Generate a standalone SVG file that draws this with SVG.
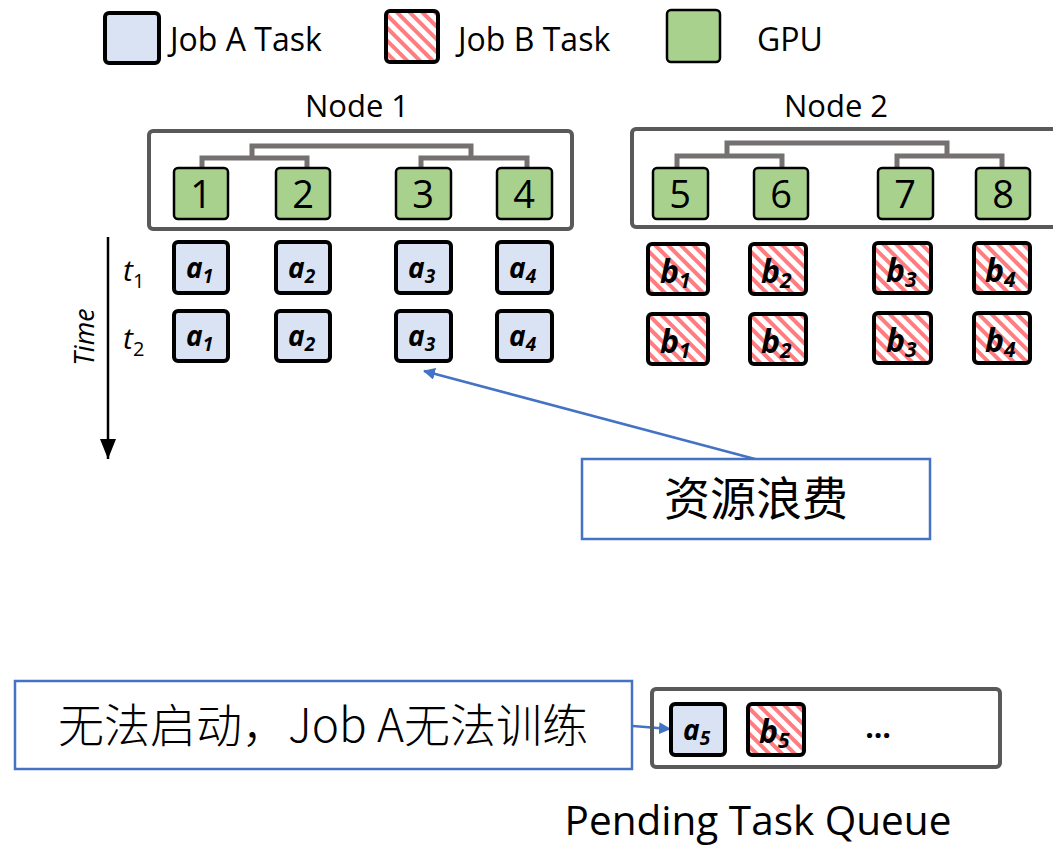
<svg xmlns="http://www.w3.org/2000/svg" width="1053" height="846" viewBox="0 0 1053 846">
<defs>
<pattern id="hatch" width="9" height="9" patternUnits="userSpaceOnUse" patternTransform="rotate(-45)">
<rect width="9" height="9" fill="#fff"/>
<rect x="0" y="0" width="4" height="9" fill="#FF7C80"/>
</pattern>
<marker id="blueArrow" markerWidth="12" markerHeight="12" refX="11" refY="6" orient="auto" markerUnits="userSpaceOnUse" viewBox="0 0 12 12">
<path d="M0,0 L12,6 L0,12 z" fill="#4472C4"/>
</marker>
<marker id="blackArrow" markerWidth="16" markerHeight="20" refX="8" refY="20" orient="0" markerUnits="userSpaceOnUse" viewBox="0 0 16 20">
<path d="M0,0 L16,0 L8,20 z" fill="#000"/>
</marker>
</defs>
<style>
.ta{fill:#DAE3F3;stroke:#000;stroke-width:4;}
.tb{fill:url(#hatch);stroke:#000;stroke-width:4;}
.gpu{fill:#A9D18E;stroke:#000;stroke-width:2.5;}
.node{fill:none;stroke:#595959;stroke-width:4;}
.tree{fill:none;stroke:#767171;stroke-width:5;}
.call{fill:#fff;stroke:#4472C4;stroke-width:2.5;}
.lbl{font-family:"Open Sans","Liberation Sans",sans-serif;fill:#000;}
.num{font-family:"Open Sans","Liberation Sans",sans-serif;font-size:38px;fill:#000;text-anchor:middle;}
.tk{font-family:"Open Sans","Liberation Sans",sans-serif;font-weight:bold;font-style:italic;font-size:28px;fill:#000;}
.tk tspan{font-size:19px;}
.tkb{font-family:"Open Sans","Liberation Sans",sans-serif;font-weight:bold;font-style:italic;font-size:32px;fill:#000;}
.tkb tspan{font-size:21px;}
.cjk{font-family:"Noto Sans CJK SC","Noto Sans",sans-serif;font-size:46px;fill:#000;}
</style>

<g id="legend">
<rect class="ta" x="105" y="13" width="54" height="50" rx="4"/>
<text class="lbl" x="170" y="51" font-size="32">Job A Task</text>
<rect class="tb" x="386" y="11" width="52" height="51" rx="4"/>
<text class="lbl" x="458" y="51" font-size="32">Job B Task</text>
<rect class="gpu" x="667" y="10" width="53" height="52" rx="4" stroke-width="2"/>
<text class="lbl" x="757" y="51" font-size="32">GPU</text>
</g>

<g id="node1">
<text class="lbl" x="357" y="117" font-size="31" text-anchor="middle">Node 1</text>
<rect class="node" x="149" y="131" width="423" height="98" rx="4"/>
<path class="tree" d="M202,168 V158 H307 V168 M252,158 V146 H471 V158 M421,168 V158 H527 V168"/>
<rect class="gpu" x="174" y="168" width="54" height="51" rx="4"/>
<text class="num" x="201" y="208">1</text>
<rect class="gpu" x="276" y="168" width="54" height="51" rx="4"/>
<text class="num" x="303" y="208">2</text>
<rect class="gpu" x="396" y="168" width="55" height="51" rx="4"/>
<text class="num" x="423" y="208">3</text>
<rect class="gpu" x="497" y="168" width="55" height="51" rx="4"/>
<text class="num" x="524" y="208">4</text>
</g>

<g id="node2">
<text class="lbl" x="836" y="117" font-size="31" text-anchor="middle">Node 2</text>
<rect class="node" x="632" y="129" width="440" height="98" rx="4"/>
<path class="tree" d="M677,168 V156 H782 V168 M727,156 V143 H947 V156 M897,168 V156 H1002 V168"/>
<rect class="gpu" x="653" y="168" width="55" height="51" rx="4"/>
<text class="num" x="680" y="208">5</text>
<rect class="gpu" x="754" y="168" width="54" height="51" rx="4"/>
<text class="num" x="781" y="208">6</text>
<rect class="gpu" x="878" y="168" width="55" height="51" rx="4"/>
<text class="num" x="905" y="208">7</text>
<rect class="gpu" x="976" y="168" width="54" height="51" rx="4"/>
<text class="num" x="1003" y="208">8</text>
</g>

<g id="time-axis">
<line x1="108" y1="237" x2="108" y2="459" stroke="#000" stroke-width="2.5" marker-end="url(#blackArrow)"/>
<text class="lbl" font-size="27" font-style="italic" transform="translate(94,337) rotate(-90)" text-anchor="middle">Time</text>
<text class="lbl" x="123" y="281" font-size="30" font-style="italic">t<tspan font-size="20" font-style="normal" dy="7">1</tspan></text>
<text class="lbl" x="123" y="349" font-size="30" font-style="italic">t<tspan font-size="20" font-style="normal" dy="7">2</tspan></text>
</g>

<g id="jobA-t1">
<rect class="ta" x="174" y="242" width="54" height="51" rx="4"/>
<text class="tk" x="186" y="278">a<tspan dy="5">1</tspan></text>
<rect class="ta" x="276" y="242" width="54" height="51" rx="4"/>
<text class="tk" x="288" y="278">a<tspan dy="5">2</tspan></text>
<rect class="ta" x="396" y="242" width="55" height="51" rx="4"/>
<text class="tk" x="408" y="278">a<tspan dy="5">3</tspan></text>
<rect class="ta" x="497" y="242" width="55" height="51" rx="4"/>
<text class="tk" x="509" y="278">a<tspan dy="5">4</tspan></text>
</g>
<g id="jobA-t2">
<rect class="ta" x="174" y="311" width="54" height="50" rx="4"/>
<text class="tk" x="186" y="346">a<tspan dy="5">1</tspan></text>
<rect class="ta" x="276" y="311" width="54" height="50" rx="4"/>
<text class="tk" x="288" y="346">a<tspan dy="5">2</tspan></text>
<rect class="ta" x="396" y="311" width="55" height="50" rx="4"/>
<text class="tk" x="408" y="346">a<tspan dy="5">3</tspan></text>
<rect class="ta" x="497" y="311" width="55" height="50" rx="4"/>
<text class="tk" x="509" y="346">a<tspan dy="5">4</tspan></text>
</g>

<g id="jobB-t1">
<rect class="tb" x="648" y="244" width="60" height="50" rx="4"/>
<text class="tkb" x="660" y="283">b<tspan dy="5">1</tspan></text>
<rect class="tb" x="750" y="244" width="56" height="50" rx="4"/>
<text class="tkb" x="761" y="283">b<tspan dy="5">2</tspan></text>
<rect class="tb" x="874" y="243" width="57" height="50" rx="4"/>
<text class="tkb" x="886" y="282">b<tspan dy="5">3</tspan></text>
<rect class="tb" x="974" y="243" width="56" height="50" rx="4"/>
<text class="tkb" x="985" y="282">b<tspan dy="5">4</tspan></text>
</g>
<g id="jobB-t2">
<rect class="tb" x="648" y="314" width="60" height="50" rx="4"/>
<text class="tkb" x="660" y="353">b<tspan dy="5">1</tspan></text>
<rect class="tb" x="750" y="314" width="56" height="50" rx="4"/>
<text class="tkb" x="761" y="353">b<tspan dy="5">2</tspan></text>
<rect class="tb" x="874" y="313" width="57" height="50" rx="4"/>
<text class="tkb" x="886" y="352">b<tspan dy="5">3</tspan></text>
<rect class="tb" x="974" y="313" width="56" height="50" rx="4"/>
<text class="tkb" x="985" y="352">b<tspan dy="5">4</tspan></text>
</g>

<g id="connectors">
<line x1="755" y1="459" x2="424" y2="371" stroke="#4472C4" stroke-width="2.5" marker-end="url(#blueArrow)"/>
<line x1="633" y1="726" x2="670" y2="729" stroke="#4472C4" stroke-width="2.5" marker-end="url(#blueArrow)"/>
</g>

<g id="callout-waste">
<rect class="call" x="582" y="459" width="348" height="80"/>
<text class="cjk" x="756" y="515" text-anchor="middle">资源浪费</text>
</g>

<g id="callout-pending">
<rect class="call" x="15" y="681" width="617" height="88"/>
<text class="cjk" x="323" y="742" text-anchor="middle" font-weight="300">无法启动，Job A无法训练</text>
</g>

<g id="queue">
<rect class="node" x="652" y="689" width="348" height="78" rx="4"/>
<rect class="ta" x="671" y="704" width="54" height="51" rx="4"/>
<text class="tk" x="683" y="740">a<tspan dy="5">5</tspan></text>
<rect class="tb" x="748" y="704" width="56" height="51" rx="4"/>
<text class="tkb" x="759" y="743">b<tspan dy="5">5</tspan></text>
<text class="lbl" x="878" y="738" font-size="30" font-weight="bold" text-anchor="middle">…</text>
<text class="lbl" x="758" y="835" font-size="40.5" text-anchor="middle">Pending Task Queue</text>
</g>
</svg>
